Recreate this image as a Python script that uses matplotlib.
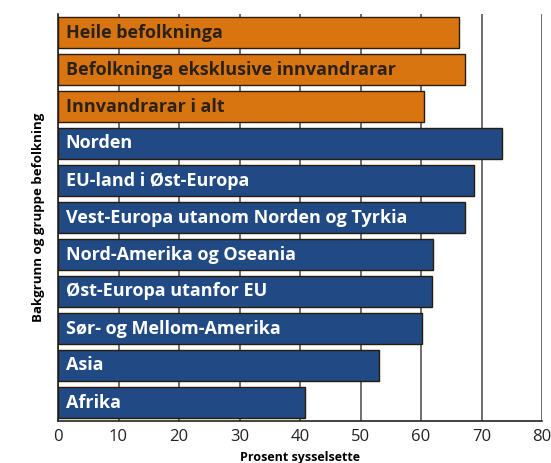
import matplotlib.pyplot as plt
import numpy as np

# data
groups = ["Heile befolkninga", "Befolkninga eksklusive innvandrarar", "Innvandrarar i alt",
          "Norden", "EU-land i Øst-Europa", "Vest-Europa utanom Norden og Tyrkia",
          "Nord-Amerika og Oseania", "Øst-Europa utanfor EU", "Sør- og Mellom-Amerika",
          "Asia", "Afrika"]
values = [66.3, 67.3, 60.5, 73.4, 68.8, 67.3, 62.0, 61.8, 60.2, 53.1, 40.8]
is_total = [True, True, True, False, False, False, False, False, False, False, False]
xticks = [0, 10, 20, 30, 40, 50, 60, 70, 80]

orange = "#d97510"
blue = "#214a84"

plt.rcParams['font.family'] = ['Open Sans', 'DejaVu Sans']

fig = plt.figure(figsize=(5.51, 4.63), dpi=100)
ax = fig.add_axes([58 / 551, 42 / 463, 484 / 551, 407 / 463])

y = np.arange(len(groups))
colors = [orange if t else blue for t in is_total]
ax.barh(y, values, height=0.84, color=colors, edgecolor="#2a1a0a", linewidth=1.0, zorder=3)

for yi, name, t in zip(y, groups, is_total):
    ax.text(1.3, yi, name, va="center", ha="left", fontsize=13, fontweight="bold",
            color="#2a2118" if t else "white", zorder=4)

ax.set_ylim(len(groups) - 0.5, -0.5)
ax.set_xlim(0, 80)
ax.set_xticks(xticks)
ax.set_xticklabels([str(t) for t in xticks], fontsize=12, color="#222222")
ax.set_yticks([])
ax.tick_params(axis="x", length=0, pad=6)
ax.grid(axis="x", color="#555555", linewidth=1.2, zorder=0)

for side in ["top", "right"]:
    ax.spines[side].set_visible(False)
ax.spines["left"].set_color("#222222")
ax.spines["bottom"].set_color("#222222")
ax.spines["left"].set_linewidth(1.2)
ax.spines["bottom"].set_linewidth(1.2)

ax.set_ylabel("Bakgrunn og gruppe befolkning", fontsize=9.5, fontweight="bold", labelpad=9)
ax.set_xlabel("Prosent sysselsette", fontsize=9, fontweight="bold", labelpad=4)

fig.savefig("out.png", dpi=100)
